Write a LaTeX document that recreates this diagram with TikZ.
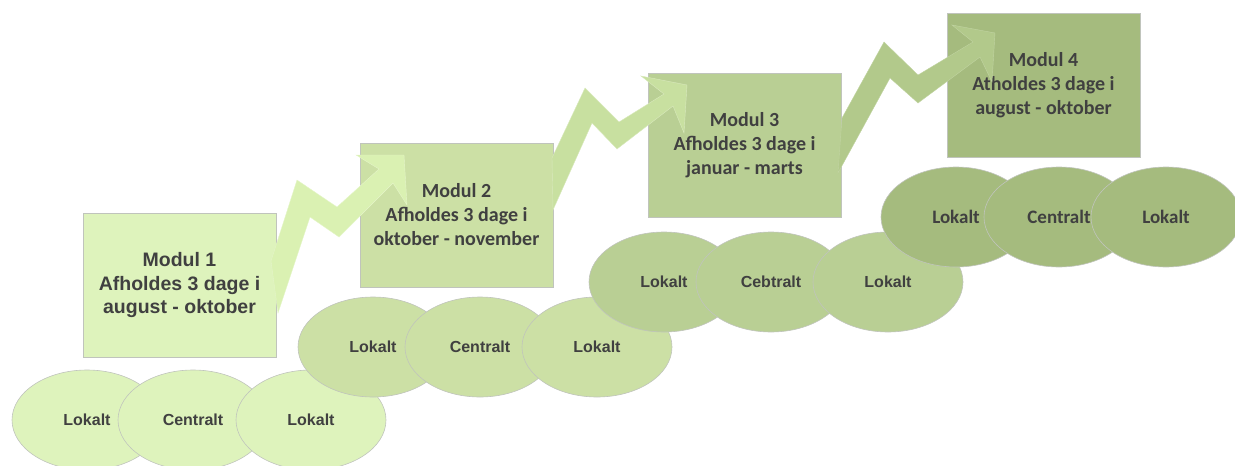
\documentclass[tikz,border=0pt]{standalone}
\usepackage{fontspec}
\setmainfont{Liberation Sans}
\newfontfamily\calibri{Carlito}
\usepackage{xcolor}
\usetikzlibrary{shapes.geometric}

\begin{document}
\begin{tikzpicture}[x=1pt,y=-1pt,
  modbox/.style={draw=edge,line width=0.6pt,minimum width=193pt,minimum height=144pt,
    align=center,text=txt,inner sep=0pt},
  arialtext/.style={font=\bfseries\fontsize{19.5}{23.5}\selectfont},
  calibritext/.style={font=\calibri\bfseries\fontsize{20}{24}\selectfont},
  oval/.style={ellipse,draw=edge,line width=0.6pt,minimum width=150pt,minimum height=100pt,
    text=txt,inner sep=0pt},
  zig/.style={line width=0.4pt,line join=miter}]
\definecolor{edge}{HTML}{C0C4BC}
\definecolor{txt}{HTML}{404040}
\definecolor{sprout}{HTML}{DEF3BC}
\definecolor{fern}{HTML}{CCE0A5}
\definecolor{sage}{HTML}{B9CF94}
\definecolor{moss}{HTML}{A5BB7E}
\definecolor{sproutarrow}{HTML}{DAF1B2}
\definecolor{fernarrow}{HTML}{C8E0A0}
\definecolor{sagearrow}{HTML}{B2C98B}
\useasboundingbox (0,0) rectangle (1235,466);

% module boxes
\node [modbox,arialtext,fill=sprout] (m1) at (179.5,285)
  {Modul 1\\Afholdes 3 dage i\\august - oktober};
\node [modbox,calibritext,fill=fern] (m2) at (456.5,215)
  {Modul 2\\Afholdes 3 dage i\\oktober - november};
\node [modbox,calibritext,fill=sage] (m3) at (744.5,145)
  {Modul 3\\Afholdes 3 dage i\\januar - marts};
\node [modbox,calibritext,fill=moss] (m4) at (1043.5,85)
  {Modul 4\\Atholdes 3 dage i\\august - oktober};

% zigzag arrows
\fill [zig,fill=sproutarrow,draw=sproutarrow!70!white]
  (278,313) -- (271,261) -- (297,180) -- (337,207) -- (379,169) -- (356,155)
  -- (404,155) -- (407,205) -- (393,183) -- (339,237) -- (310,217) -- cycle;
\fill [zig,fill=fernarrow,draw=fernarrow!70!white]
  (553,210) -- (552,158) -- (585,88) -- (619,122) -- (664,94) -- (641,76)
  -- (687,85) -- (684,133) -- (673,106) -- (617,149) -- (592,123) -- cycle;
\fill [zig,fill=sagearrow,draw=sagearrow!80!white]
  (838,173) -- (842,118) -- (884,42) -- (918,75) -- (973,42) -- (952,25)
  -- (995,33) -- (992,82) -- (980,57) -- (918,103) -- (890,78) -- cycle;

% places
\foreach \name/\x/\y/\where/\crlr in {a1/87/420/Lokalt/sprout,a2/193/420/Centralt/sprout,a3/311/420/Lokalt/sprout,
    b1/373/347/Lokalt/fern,b2/480/347/Centralt/fern,b3/597/347/Lokalt/fern,
    c1/664/282/Lokalt/sage,c2/771/282/Cebtralt/sage,c3/888/282/Lokalt/sage}
  {  \node [oval,fill=\crlr,font=\bfseries\fontsize{16}{19}\selectfont] (\name) at (\x,\y) {\where};}
\foreach \name/\x/\y/\where in {d1/956/217/Lokalt,d2/1059/217/Centralt,d3/1166/217/Lokalt}
  {  \node [oval,fill=moss,font=\calibri\bfseries\fontsize{19}{22}\selectfont] (\name) at (\x,\y) {\where};}
\end{tikzpicture}
\end{document}
